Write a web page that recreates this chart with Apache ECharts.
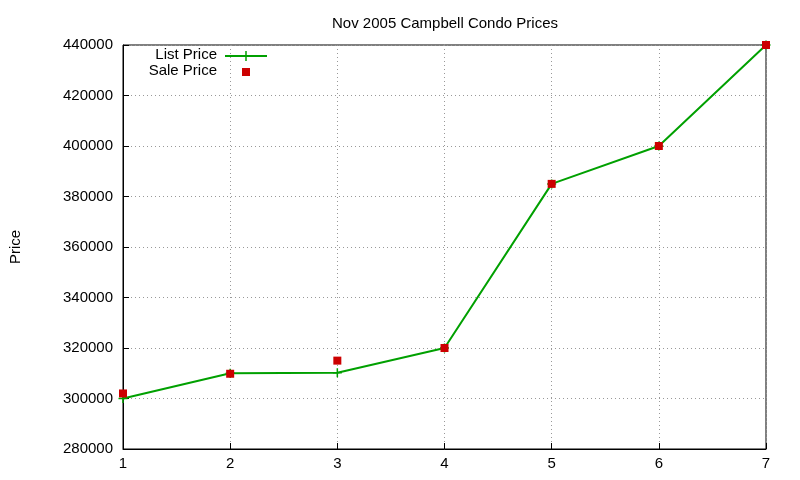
<!DOCTYPE html>
<html><head><meta charset="utf-8">
<script src="https://cdn.jsdelivr.net/npm/echarts@6/dist/echarts.min.js"></script>
<style>html,body{margin:0;background:#fff}#c{width:800px;height:480px}</style>
</head><body><div id="c"></div>
<script>
const categories = [1,2,3,4,5,6,7];
const listPrice = [300000,310000,310200,320000,385000,400000,440000];
const salePrice = [302000,309800,315000,320000,385000,400000,440000];
const plusPath = 'path://M0,5L10,5M5,0L5,10';
const chart = echarts.init(document.getElementById('c'));
const font = 'Liberation Sans, Arial, sans-serif';
chart.setOption({
  animation:false,
  title:{text:'Nov 2005 Campbell Condo Prices',left:440,top:11,textAlign:'center',
    textStyle:{fontFamily:font,fontSize:15,fontWeight:'normal',color:'#000'}},
  grid:{left:119,right:34,top:45,bottom:31,show:true,borderColor:'#000',borderWidth:1},
  xAxis:{type:'value',min:1,max:7,interval:1,
    axisLine:{lineStyle:{color:'#000'}},axisTick:{inside:true,length:6,lineStyle:{color:'#000'}},
    axisLabel:{color:'#000',fontFamily:font,fontSize:15,margin:7},
    splitLine:{show:true,lineStyle:{color:'#999',type:[1,3]}}},
  yAxis:{type:'value',min:280000,max:440000,interval:20000,name:'Price',nameLocation:'middle',nameGap:100,
    nameTextStyle:{fontFamily:font,fontSize:15,color:'#000'},
    axisLine:{show:true,lineStyle:{color:'#000'}},axisTick:{inside:true,length:6,lineStyle:{color:'#000'}},
    axisLabel:{color:'#000',fontFamily:font,fontSize:15,margin:10,formatter:v=>String(v)},
    splitLine:{show:true,lineStyle:{color:'#999',type:[1,3]}}},
  series:[
    {type:'line',data:categories.map((c,i)=>[c,listPrice[i]]),symbol:plusPath,symbolSize:9,showAllSymbol:true,
      lineStyle:{color:'#00a000',width:2},itemStyle:{color:'#00a000',borderColor:'#00a000',borderWidth:1.5}},
    {type:'scatter',data:categories.map((c,i)=>[c,salePrice[i]]),symbol:'rect',symbolSize:8,
      itemStyle:{color:'#cc0000',opacity:1},z:3}
  ],
  graphic:[
    {type:'text',right:800-217,top:47,style:{text:'List Price',font:'15px '+font,fill:'#000',textAlign:'right'}},
    {type:'line',shape:{x1:225,y1:56,x2:267,y2:56},style:{stroke:'#00a000',lineWidth:2}},
    {type:'line',shape:{x1:246,y1:51,x2:246,y2:61},style:{stroke:'#00a000',lineWidth:1.5}},
    {type:'text',right:800-217,top:63,style:{text:'Sale Price',font:'15px '+font,fill:'#000',textAlign:'right'}},
    {type:'rect',shape:{x:242,y:68,width:8,height:8},style:{fill:'#cc0000'}}
  ]
});
</script></body></html>
